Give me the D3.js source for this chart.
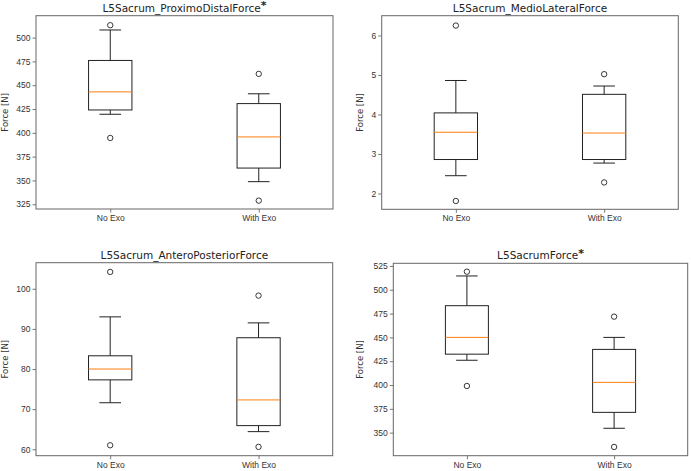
<!DOCTYPE html>
<html><head><meta charset="utf-8">
<script src="https://cdn.jsdelivr.net/npm/d3@7"></script>
<style>body{margin:0;background:#fff}svg{display:block}</style>
</head><body>
<script>
const categories = ["No Exo", "With Exo"];
const titles = ["L5Sacrum_ProximoDistalForce", "L5Sacrum_MedioLateralForce", "L5Sacrum_AnteroPosteriorForce", "L5SacrumForce"];
const significant = [true, false, false, true];
// [whiskerLow, q1, median, q3, whiskerHigh] per category
const proximoDistal = [[419.5, 424, 443, 476, 508], [348.7, 363, 395.7, 430.7, 441]];
const proximoDistalOutliers = [[513, 394.6], [461.9, 328.8]];
const medioLateral = [[2.45, 2.86, 3.55, 4.04, 4.86], [2.77, 2.86, 3.53, 4.51, 4.72]];
const medioLateralOutliers = [[6.25, 1.81], [5.02, 2.28]];
const anteroPosterior = [[71.6, 77.3, 80.0, 83.3, 93.0], [64.4, 65.9, 72.3, 87.8, 91.5]];
const anteroPosteriorOutliers = [[104.2, 61.0], [98.3, 60.6]];
const totalForce = [[426, 432.4, 450, 483.3, 514.5], [354.6, 371.3, 402.8, 437.4, 450]];
const totalForceOutliers = [[519, 399], [471.8, 335]];
const yTicks = [
  [325, 350, 375, 400, 425, 450, 475, 500],
  [2, 3, 4, 5, 6],
  [60, 70, 80, 90, 100],
  [350, 375, 400, 425, 450, 475, 500, 525]
];
const yDomains = [[320, 523], [1.6, 6.5], [58.4, 106.5], [325.8, 527.8]];

const panels = [
  {stats: proximoDistal, out: proximoDistalOutliers, box: [36, 333, 15.7, 209]},
  {stats: medioLateral, out: medioLateralOutliers, box: [381.7, 678.3, 15.7, 209.3]},
  {stats: anteroPosterior, out: anteroPosteriorOutliers, box: [36, 332.7, 262.7, 455.7]},
  {stats: totalForce, out: totalForceOutliers, box: [393.3, 687.7, 263.3, 455.7]}
];

const W = 691, H = 471;
const svg = d3.select("body").append("svg").attr("width", W).attr("height", H)
  .style("font-family", "DejaVu Sans, sans-serif");

panels.forEach((p, i) => {
  const [x0, x1, y0, y1] = p.box;
  const x = d3.scalePoint().domain(categories).range([x0, x1]).padding(0.5);
  const y = d3.scaleLinear().domain(yDomains[i]).range([y1, y0]);
  const g = svg.append("g");
  const bw = (x1 - x0) * 0.073;

  // axes
  const ya = g.append("g").attr("transform", `translate(${x0},0)`)
    .call(d3.axisLeft(y).tickValues(yTicks[i]).tickSize(3.5).tickPadding(2).tickFormat(d3.format("d")));
  const xa = g.append("g").attr("transform", `translate(0,${y1})`)
    .call(d3.axisBottom(x).tickSize(3.5).tickPadding(2.5));
  [ya, xa].forEach(a => {
    a.select(".domain").remove();
    a.selectAll(".tick line").attr("stroke", "#555").attr("stroke-width", 0.8);
    a.selectAll(".tick text").attr("fill", "#333").style("font-size", "8.5px");
  });
  g.append("rect").attr("x", x0).attr("y", y0).attr("width", x1 - x0).attr("height", y1 - y0)
    .attr("fill", "none").attr("stroke", "#666").attr("stroke-width", 1);

  // boxes
  categories.forEach((c, j) => {
    const s = p.stats[j];
    const cx = x(c);
    const bg = g.append("g").attr("stroke", "#222").attr("stroke-width", 1).attr("fill", "none");
    bg.append("line").attr("x1", cx).attr("x2", cx).attr("y1", y(s[0])).attr("y2", y(s[1]));
    bg.append("line").attr("x1", cx).attr("x2", cx).attr("y1", y(s[3])).attr("y2", y(s[4]));
    bg.append("line").attr("x1", cx - bw / 2).attr("x2", cx + bw / 2).attr("y1", y(s[0])).attr("y2", y(s[0]));
    bg.append("line").attr("x1", cx - bw / 2).attr("x2", cx + bw / 2).attr("y1", y(s[4])).attr("y2", y(s[4]));
    bg.append("rect").attr("x", cx - bw).attr("width", 2 * bw).attr("y", y(s[3])).attr("height", y(s[1]) - y(s[3]));
    g.append("line").attr("x1", cx - bw).attr("x2", cx + bw).attr("y1", y(s[2])).attr("y2", y(s[2]))
      .attr("stroke", "#ff7f0e").attr("stroke-width", 1);
    p.out[j].forEach(v => {
      g.append("circle").attr("cx", cx).attr("cy", y(v)).attr("r", 2.7)
        .attr("fill", "none").attr("stroke", "#222").attr("stroke-width", 0.9);
    });
  });

  // title
  const t = g.append("text").attr("x", (x0 + x1) / 2).attr("y", y0 - 4)
    .attr("text-anchor", "middle").style("font-size", "10.5px").attr("fill", "#222").text(titles[i]);
  if (significant[i]) t.append("tspan").attr("dy", -2.5).style("font-size", "11px").style("font-weight", "bold").text("*");

  // y label
  g.append("text").attr("transform", `translate(${i % 2 === 0 ? 8 : 363},${(y0 + y1) / 2}) rotate(-90)`)
    .attr("text-anchor", "middle").style("font-size", "8.5px").attr("fill", "#333").text("Force [N]");
});
</script>
</body></html>
